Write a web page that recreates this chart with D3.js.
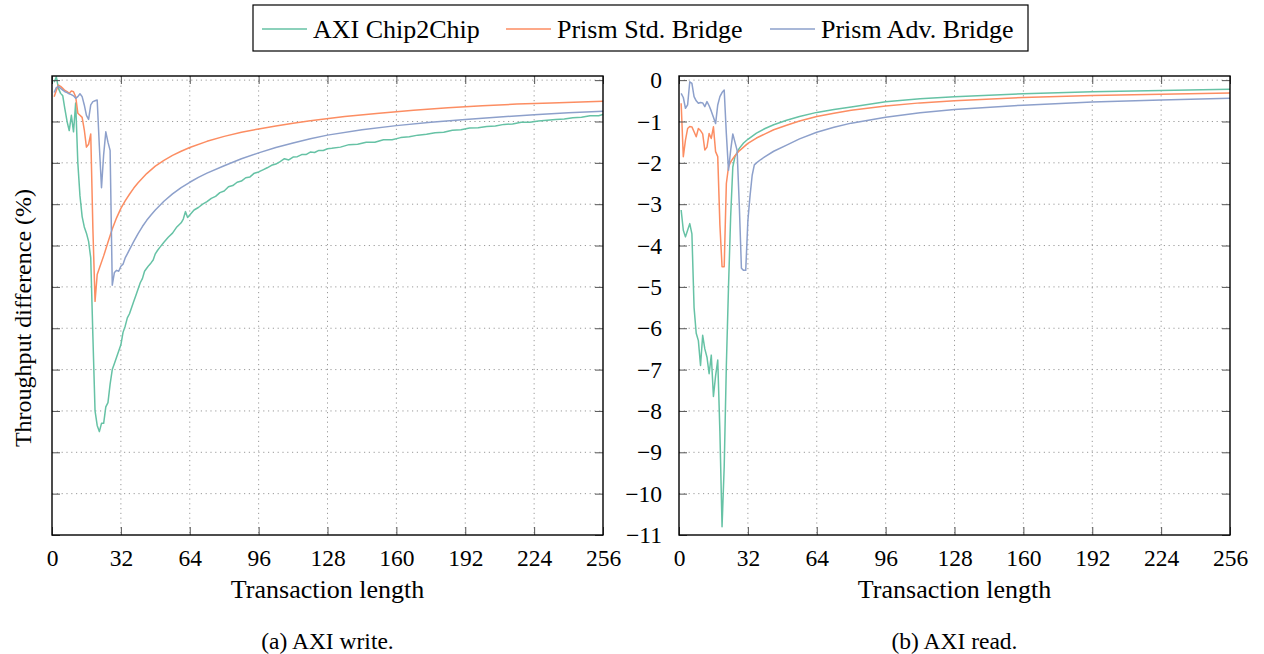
<!DOCTYPE html>
<html>
<head>
<meta charset="utf-8">
<script src="https://cdn.jsdelivr.net/npm/d3@7"></script>
<style>
  body { margin: 0; background: #fff; }
  text { font-family: "Liberation Serif", "Times New Roman", serif; fill: #000; }
</style>
</head>
<body>
<div id="chart"></div>
<script>
// series names + colours (Set2)
const SERIES = ["AXI Chip2Chip", "Prism Std. Bridge", "Prism Adv. Bridge"];
const COLORS = ["#66c2a5", "#fc8d62", "#8da0cb"];

const X_TICKS = [0, 32, 64, 96, 128, 160, 192, 224, 256];
const Y_TICKS = [0, -1, -2, -3, -4, -5, -6, -7, -8, -9, -10, -11];
const CAPTIONS = ["(a) AXI write.", "(b) AXI read."];

// (a) AXI write  -- [transaction length, throughput difference %]
const writeC2C = [[1,-0.05],[2,0.08],[3,-0.2],[4,-0.32],[5,-0.38],[6,-0.7],[7,-1.0],[8,-1.22],[9,-0.85],[10,-1.25],[11,-0.55],
  [12,-2.0],[13,-2.8],[14,-3.3],[15,-3.55],[16,-3.7],[17,-3.9],[18,-4.3],[19,-6.2],[20,-8.0],[21,-8.35],[22,-8.5],[23,-8.3],
  [24,-8.3],[25,-7.9],[26,-7.8],[27,-7.35],[28,-7.0],[29,-6.85],[30,-6.7],[31,-6.55],[32,-6.4],[33,-6.1],[34,-5.95],[35,-5.75],
  [36,-5.65],[37,-5.5],[38,-5.35],[39,-5.2],[40,-5.05],[41,-4.9],[42,-4.8],[43,-4.62],[44,-4.55],[45,-4.48],[46,-4.42],[47,-4.35],
  [48,-4.2],[49,-4.12],[50,-4.05],[52,-3.92],[54,-3.8],[56,-3.7],[58,-3.55],[60,-3.45],[61,-3.36],[62,-3.18],[63,-3.32],[64,-3.26],
  [66,-3.14],[68,-3.08],[70,-3.0],[72,-2.94],[74,-2.86],[76,-2.81],[78,-2.72],[80,-2.68],[82,-2.58],[84,-2.55],[86,-2.47],[88,-2.44],
  [90,-2.36],[92,-2.34],[94,-2.25],[96,-2.22],[98,-2.17],[100,-2.12],[102,-2.06],[104,-2.03],[106,-1.97],[108,-1.9],[110,-1.93],
  [112,-1.86],[114,-1.85],[116,-1.8],[118,-1.8],[120,-1.74],[122,-1.75],[124,-1.7],[126,-1.7],[128,-1.66],[130,-1.65],[134,-1.62],
  [138,-1.56],[142,-1.55],[146,-1.5],[150,-1.5],[154,-1.44],[158,-1.44],[162,-1.39],[166,-1.37],[170,-1.33],[174,-1.31],[178,-1.27],
  [182,-1.26],[186,-1.21],[190,-1.2],[194,-1.16],[198,-1.15],[202,-1.12],[206,-1.11],[210,-1.07],[214,-1.06],[218,-1.02],[222,-1.02],
  [226,-0.99],[230,-0.97],[234,-0.95],[238,-0.94],[242,-0.91],[246,-0.9],[250,-0.86],[254,-0.86],[256,-0.83]];
const writeStd = [[1,-0.4],[2,-0.25],[3,-0.12],[4,-0.15],[5,-0.2],[6,-0.25],[7,-0.28],[8,-0.32],[9,-0.26],[10,-0.28],[11,-0.4],
  [12,-0.8],[13,-0.85],[14,-0.9],[15,-1.2],[16,-1.62],[17,-1.55],[18,-1.3],[19,-3.6],[20,-5.35],[21,-4.7],[22,-4.55],[24,-4.25],
  [26,-3.92],[28,-3.6],[30,-3.33],[32,-3.1],[34,-2.92],[36,-2.76],[38,-2.61],[40,-2.48],[44,-2.26],[48,-2.08],[52,-1.94],[56,-1.82],
  [60,-1.72],[64,-1.63],[72,-1.48],[80,-1.36],[88,-1.26],[96,-1.18],[104,-1.11],[112,-1.04],[120,-0.98],[136,-0.88],[152,-0.8],
  [168,-0.73],[184,-0.67],[200,-0.62],[216,-0.58],[232,-0.55],[256,-0.51]];
const writeAdv = [[1,-0.3],[2,-0.18],[3,-0.15],[4,-0.2],[5,-0.24],[6,-0.28],[7,-0.3],[8,-0.33],[9,-0.35],[10,-0.38],[11,-0.44],
  [12,-0.4],[13,-0.33],[14,-0.4],[15,-0.6],[16,-0.85],[17,-0.95],[18,-0.6],[19,-0.52],[20,-0.5],[21,-0.48],[22,-1.6],[23,-2.6],
  [24,-1.8],[25,-1.25],[26,-1.5],[27,-1.7],[28,-4.96],[29,-4.65],[30,-4.6],[31,-4.62],[32,-4.5],[33,-4.45],[34,-4.3],[35,-4.2],
  [36,-4.1],[38,-3.9],[40,-3.71],[42,-3.54],[44,-3.39],[46,-3.26],[48,-3.14],[52,-2.93],[56,-2.75],[60,-2.6],[64,-2.47],[68,-2.35],
  [72,-2.25],[80,-2.07],[88,-1.9],[96,-1.76],[104,-1.63],[112,-1.52],[120,-1.42],[128,-1.33],[144,-1.2],[160,-1.1],[176,-1.02],
  [192,-0.95],[208,-0.89],[224,-0.84],[240,-0.79],[256,-0.75]];

// (b) AXI read
const readC2C = [[1,-3.14],[2,-3.63],[3,-3.79],[4,-3.63],[5,-3.47],[6,-3.72],[7,-5.5],[8,-6.12],[9,-6.3],[10,-6.9],[11,-6.17],
  [12,-6.5],[13,-6.7],[14,-7.1],[15,-6.65],[16,-7.65],[17,-7.15],[18,-6.77],[19,-8.5],[20,-10.8],[21,-9.35],[22,-6.9],[23,-5.0],
  [24,-3.3],[25,-2.1],[26,-1.85],[27,-1.75],[28,-1.65],[30,-1.52],[32,-1.43],[36,-1.28],[40,-1.17],[44,-1.08],[50,-0.97],
  [56,-0.88],[64,-0.78],[72,-0.71],[80,-0.65],[96,-0.52],[112,-0.45],[128,-0.4],[160,-0.33],[192,-0.28],[224,-0.25],[256,-0.22]];
const readStd = [[1,-0.56],[2,-1.85],[3,-1.45],[4,-1.17],[5,-1.12],[6,-1.13],[7,-1.25],[8,-1.37],[9,-1.17],[10,-1.22],[11,-1.3],
  [12,-1.69],[13,-1.62],[14,-1.29],[15,-1.41],[16,-1.13],[17,-1.73],[18,-1.85],[19,-3.5],[20,-4.51],[21,-4.51],[22,-2.5],[23,-2.1],
  [24,-1.98],[25,-1.9],[26,-1.83],[28,-1.71],[30,-1.62],[32,-1.53],[36,-1.4],[40,-1.3],[44,-1.2],[50,-1.09],[56,-0.99],[64,-0.88],
  [72,-0.8],[80,-0.73],[96,-0.625],[112,-0.55],[128,-0.5],[160,-0.42],[192,-0.37],[224,-0.34],[256,-0.31]];
const readAdv = [[1,-0.32],[2,-0.42],[3,-0.68],[4,-0.6],[5,-0.04],[6,-0.08],[7,-0.4],[8,-0.5],[9,-0.56],[10,-0.54],[11,-0.55],
  [12,-0.64],[13,-0.52],[14,-0.62],[15,-0.75],[16,-0.9],[17,-1.05],[18,-0.6],[19,-0.4],[20,-0.3],[21,-0.24],[22,-1.3],[23,-2.18],
  [24,-1.7],[25,-1.3],[26,-1.5],[27,-1.7],[28,-3.0],[29,-4.55],[30,-4.6],[31,-4.6],[32,-3.4],[33,-2.8],[34,-2.3],[35,-2.05],
  [36,-2.0],[38,-1.92],[40,-1.85],[44,-1.72],[50,-1.57],[56,-1.42],[64,-1.26],[72,-1.14],[80,-1.04],[96,-0.9],[112,-0.79],
  [128,-0.71],[160,-0.605],[192,-0.53],[224,-0.48],[256,-0.44]];

var W = 1264, H = 654;
var plotTop = 76, plotBottom = 535;

var svg = d3.select("#chart").append("svg")
  .attr("width", W)
  .attr("height", H);

var y = d3.scaleLinear().domain([-11, 0.1]).range([plotBottom, plotTop]);

function panel(left, right, data, caption, showY) {
  var x = d3.scaleLinear().domain([0, 256]).range([left, right]);
  var g = svg.append("g");

  // dotted grid
  g.selectAll("line.gx").data(X_TICKS.slice(1, -1)).enter().append("line")
    .attr("x1", function(d) { return x(d); }).attr("x2", function(d) { return x(d); })
    .attr("y1", plotTop).attr("y2", plotBottom)
    .attr("stroke", "#9a9a9a").attr("stroke-width", 1).attr("stroke-dasharray", "1.2,3.6");
  g.selectAll("line.gy").data(Y_TICKS.slice(0, -1)).enter().append("line")
    .attr("x1", left).attr("x2", right)
    .attr("y1", function(d) { return y(d); }).attr("y2", function(d) { return y(d); })
    .attr("stroke", "#9a9a9a").attr("stroke-width", 1).attr("stroke-dasharray", "1.2,3.6");

  // lines
  var line = d3.line()
    .x(function(d) { return x(d[0]); })
    .y(function(d) { return y(d[1]); });

  g.append("clipPath").attr("id", "clip" + left)
    .append("rect").attr("x", left).attr("y", plotTop).attr("width", right - left).attr("height", plotBottom - plotTop);

  data.forEach(function(s, i) {
    g.append("path")
      .datum(s)
      .attr("clip-path", "url(#clip" + left + ")")
      .attr("fill", "none")
      .attr("stroke", COLORS[i])
      .attr("stroke-width", 1.5)
      .attr("stroke-linejoin", "round")
      .attr("d", line);
  });

  // inner ticks on all four sides
  var xAxis = g.append("g")
    .attr("transform", "translate(0," + plotBottom + ")")
    .call(d3.axisBottom(x).tickValues(X_TICKS).tickSizeInner(-8).tickSizeOuter(0).tickPadding(14));
  xAxis.selectAll("text").style("font-size", "23.5px").style("font-family", "Liberation Serif");

  g.append("g")
    .attr("transform", "translate(0," + plotTop + ")")
    .call(d3.axisTop(x).tickValues(X_TICKS).tickSizeInner(-8).tickSizeOuter(0).tickFormat(""));

  var yAxis = g.append("g")
    .attr("transform", "translate(" + left + ",0)")
    .call(d3.axisLeft(y).tickValues(Y_TICKS).tickSizeInner(-8).tickSizeOuter(0).tickPadding(17)
      .tickFormat(showY ? function(d) { return d === 0 ? "0" : "\u2212" + Math.abs(d); } : ""));
  yAxis.selectAll("text").style("font-size", "23.5px").style("font-family", "Liberation Serif");

  g.append("g")
    .attr("transform", "translate(" + right + ",0)")
    .call(d3.axisRight(y).tickValues(Y_TICKS).tickSizeInner(-8).tickSizeOuter(0).tickFormat(""));

  g.selectAll(".domain").remove();
  g.selectAll(".tick line").attr("stroke", "#555");

  // frame
  g.append("rect")
    .attr("x", left).attr("y", plotTop)
    .attr("width", right - left).attr("height", plotBottom - plotTop)
    .attr("fill", "none").attr("stroke", "#000").attr("stroke-width", 1.4);

  g.append("text")
    .attr("x", (left + right) / 2).attr("y", 598)
    .style("text-anchor", "middle").style("font-size", "26px")
    .text("Transaction length");

  g.append("text")
    .attr("x", (left + right) / 2).attr("y", 649)
    .style("text-anchor", "middle").style("font-size", "23.5px")
    .text(caption);
}

panel(52, 603, [writeC2C, writeStd, writeAdv], CAPTIONS[0], false);
panel(679, 1230, [readC2C, readStd, readAdv], CAPTIONS[1], true);

svg.append("text")
  .attr("transform", "translate(31,318) rotate(-90)")
  .style("text-anchor", "middle").style("font-size", "24px")
  .text("Throughput difference (%)");

// legend
var legend = svg.append("g");
legend.append("rect")
  .attr("x", 253).attr("y", 5).attr("width", 775).attr("height", 46)
  .attr("fill", "#fff").attr("stroke", "#000").attr("stroke-width", 1.2);

var legendX = [262, 506, 770];
SERIES.forEach(function(name, i) {
  legend.append("line")
    .attr("x1", legendX[i]).attr("x2", legendX[i] + 45)
    .attr("y1", 29).attr("y2", 29)
    .attr("stroke", COLORS[i]).attr("stroke-width", 1.5);
  legend.append("text")
    .attr("x", legendX[i] + 51).attr("y", 38)
    .style("font-size", "26px")
    .text(name);
});
</script>
</body>
</html>
